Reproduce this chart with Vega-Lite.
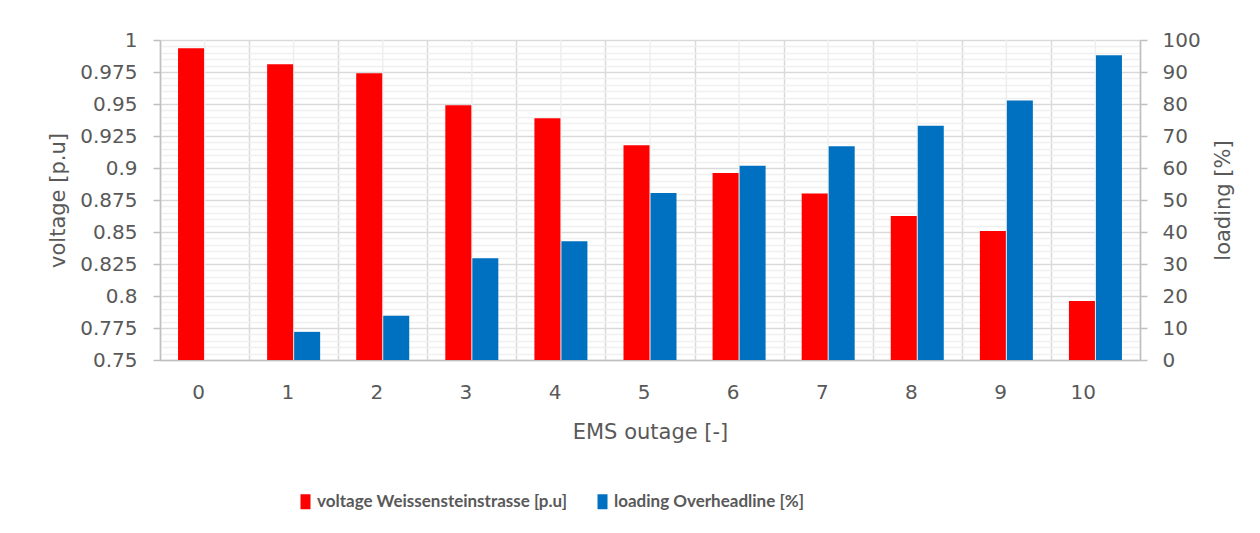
{
  "$schema": "https://vega.github.io/schema/vega-lite/v6.json",
  "width": 980,
  "height": 320,
  "autosize": {"type": "none"},
  "padding": {"left": 160, "top": 40, "right": 120, "bottom": 173},
  "background": "white",
  "config": {
    "view": {"stroke": null},
    "font": "DejaVu Sans",
    "axis": {
      "labelFont": "DejaVu Sans",
      "titleFont": "DejaVu Sans",
      "labelColor": "#595959",
      "titleColor": "#595959",
      "titleFontWeight": "normal",
      "labelFontSize": 20,
      "titleFontSize": 21
    }
  },
  "data": {
    "values": [
      {"outage": 0, "series": "voltage Weissensteinstrasse [p.u]", "value": 0.9935},
      {"outage": 1, "series": "voltage Weissensteinstrasse [p.u]", "value": 0.981},
      {"outage": 2, "series": "voltage Weissensteinstrasse [p.u]", "value": 0.974},
      {"outage": 3, "series": "voltage Weissensteinstrasse [p.u]", "value": 0.949},
      {"outage": 4, "series": "voltage Weissensteinstrasse [p.u]", "value": 0.9388},
      {"outage": 5, "series": "voltage Weissensteinstrasse [p.u]", "value": 0.9177},
      {"outage": 6, "series": "voltage Weissensteinstrasse [p.u]", "value": 0.896},
      {"outage": 7, "series": "voltage Weissensteinstrasse [p.u]", "value": 0.88},
      {"outage": 8, "series": "voltage Weissensteinstrasse [p.u]", "value": 0.8625},
      {"outage": 9, "series": "voltage Weissensteinstrasse [p.u]", "value": 0.8508},
      {"outage": 10, "series": "voltage Weissensteinstrasse [p.u]", "value": 0.796},
      {"outage": 0, "series": "loading Overheadline [%]", "value": 0},
      {"outage": 1, "series": "loading Overheadline [%]", "value": 8.8},
      {"outage": 2, "series": "loading Overheadline [%]", "value": 13.8},
      {"outage": 3, "series": "loading Overheadline [%]", "value": 31.8},
      {"outage": 4, "series": "loading Overheadline [%]", "value": 37.1},
      {"outage": 5, "series": "loading Overheadline [%]", "value": 52.2},
      {"outage": 6, "series": "loading Overheadline [%]", "value": 60.7},
      {"outage": 7, "series": "loading Overheadline [%]", "value": 66.8},
      {"outage": 8, "series": "loading Overheadline [%]", "value": 73.2},
      {"outage": 9, "series": "loading Overheadline [%]", "value": 81.1},
      {"outage": 10, "series": "loading Overheadline [%]", "value": 95.2}
    ]
  },
  "layer": [
    {
      "transform": [{"filter": "datum.series === 'voltage Weissensteinstrasse [p.u]'"}],
      "mark": {"type": "rule", "color": "#eeeeee", "strokeWidth": 1.5},
      "encoding": {
        "x": {"field": "outage", "type": "ordinal", "scale": {"paddingInner": 0, "paddingOuter": 0}}
      }
    },
    {
      "transform": [{"filter": "datum.series === 'voltage Weissensteinstrasse [p.u]'"}],
      "mark": {"type": "bar"},
      "encoding": {
        "x": {
          "field": "outage",
          "type": "ordinal",
          "scale": {"paddingInner": 0, "paddingOuter": 0},
          "axis": {
            "title": "EMS outage [-]",
            "labelAngle": 0,
            "ticks": false,
            "tickBand": "extent",
            "grid": true,
            "gridColor": "#d9d9d9",
            "gridWidth": 1.5,
            "domainColor": "#bfbfbf",
            "domainWidth": 1.5,
            "labelPadding": 32,
            "titlePadding": 19
          }
        },
        "xOffset": {
          "field": "series",
          "type": "nominal",
          "scale": {"domain": ["voltage Weissensteinstrasse [p.u]", "loading Overheadline [%]"], "paddingInner": 0.037, "paddingOuter": 0.668}
        },
        "y": {
          "field": "value",
          "type": "quantitative",
          "scale": {"domain": [0.75, 1], "zero": false, "nice": false},
          "axis": {
            "orient": "left",
            "title": "voltage [p.u]",
            "values": [0.75, 0.775, 0.8, 0.825, 0.85, 0.875, 0.9, 0.925, 0.95, 0.975, 1],
            "labelExpr": "format(datum.value, '~g')",
            "labelOverlap": false,
            "grid": false,
            "tickSize": 7,
            "tickColor": "#bfbfbf",
            "tickWidth": 1.5,
            "domainColor": "#bfbfbf",
            "domainWidth": 1.5,
            "labelPadding": 16,
            "titlePadding": 11
          }
        },
        "y2": {"datum": 0.75},
        "color": {
          "field": "series",
          "type": "nominal",
          "scale": {"domain": ["voltage Weissensteinstrasse [p.u]", "loading Overheadline [%]"], "range": ["#ff0000", "#0070c0"]},
          "legend": {
            "orient": "none",
            "legendX": 137,
            "legendY": 453,
            "direction": "horizontal",
            "title": null,
            "symbolType": "M-0.667,-1H0.667V1H-0.667Z",
            "symbolSize": 225,
            "symbolStrokeWidth": 0,
            "labelFont": "Lato",
            "labelFontSize": 17,
            "labelFontWeight": "bold",
            "labelColor": "#595959",
            "columnPadding": 26,
            "labelOffset": 3,
            "labelLimit": 400
          }
        }
      }
    },
    {
      "transform": [{"filter": "datum.series === 'loading Overheadline [%]'"}],
      "mark": {"type": "bar"},
      "encoding": {
        "x": {"field": "outage", "type": "ordinal", "scale": {"paddingInner": 0, "paddingOuter": 0}},
        "xOffset": {
          "field": "series",
          "type": "nominal",
          "scale": {"domain": ["voltage Weissensteinstrasse [p.u]", "loading Overheadline [%]"], "paddingInner": 0.037, "paddingOuter": 0.668}
        },
        "y": {
          "field": "value",
          "type": "quantitative",
          "scale": {"domain": [0, 100], "nice": false},
          "axis": {
            "orient": "right",
            "title": "loading [%]",
            "titleAngle": 270,
            "titleBaseline": "top",
            "values": [0,2,4,6,8,10,12,14,16,18,20,22,24,26,28,30,32,34,36,38,40,42,44,46,48,50,52,54,56,58,60,62,64,66,68,70,72,74,76,78,80,82,84,86,88,90,92,94,96,98,100],
            "labelExpr": "datum.value % 10 === 0 ? datum.label : ''",
            "labelOverlap": false,
            "grid": true,
            "gridColor": {"condition": {"test": "datum.value % 10 === 0", "value": "#d9d9d9"}, "value": "#f0f0f0"},
            "gridWidth": 1.5,
            "tickSize": 7,
            "tickColor": {"condition": {"test": "datum.value % 10 === 0", "value": "#bfbfbf"}, "value": "transparent"},
            "tickWidth": 1.5,
            "domainColor": "#bfbfbf",
            "domainWidth": 1.5,
            "labelPadding": 15,
            "titlePadding": 12
          }
        },
        "y2": {"datum": 0},
        "color": {"field": "series", "type": "nominal"}
      }
    }
  ],
  "resolve": {"scale": {"y": "independent"}}
}
